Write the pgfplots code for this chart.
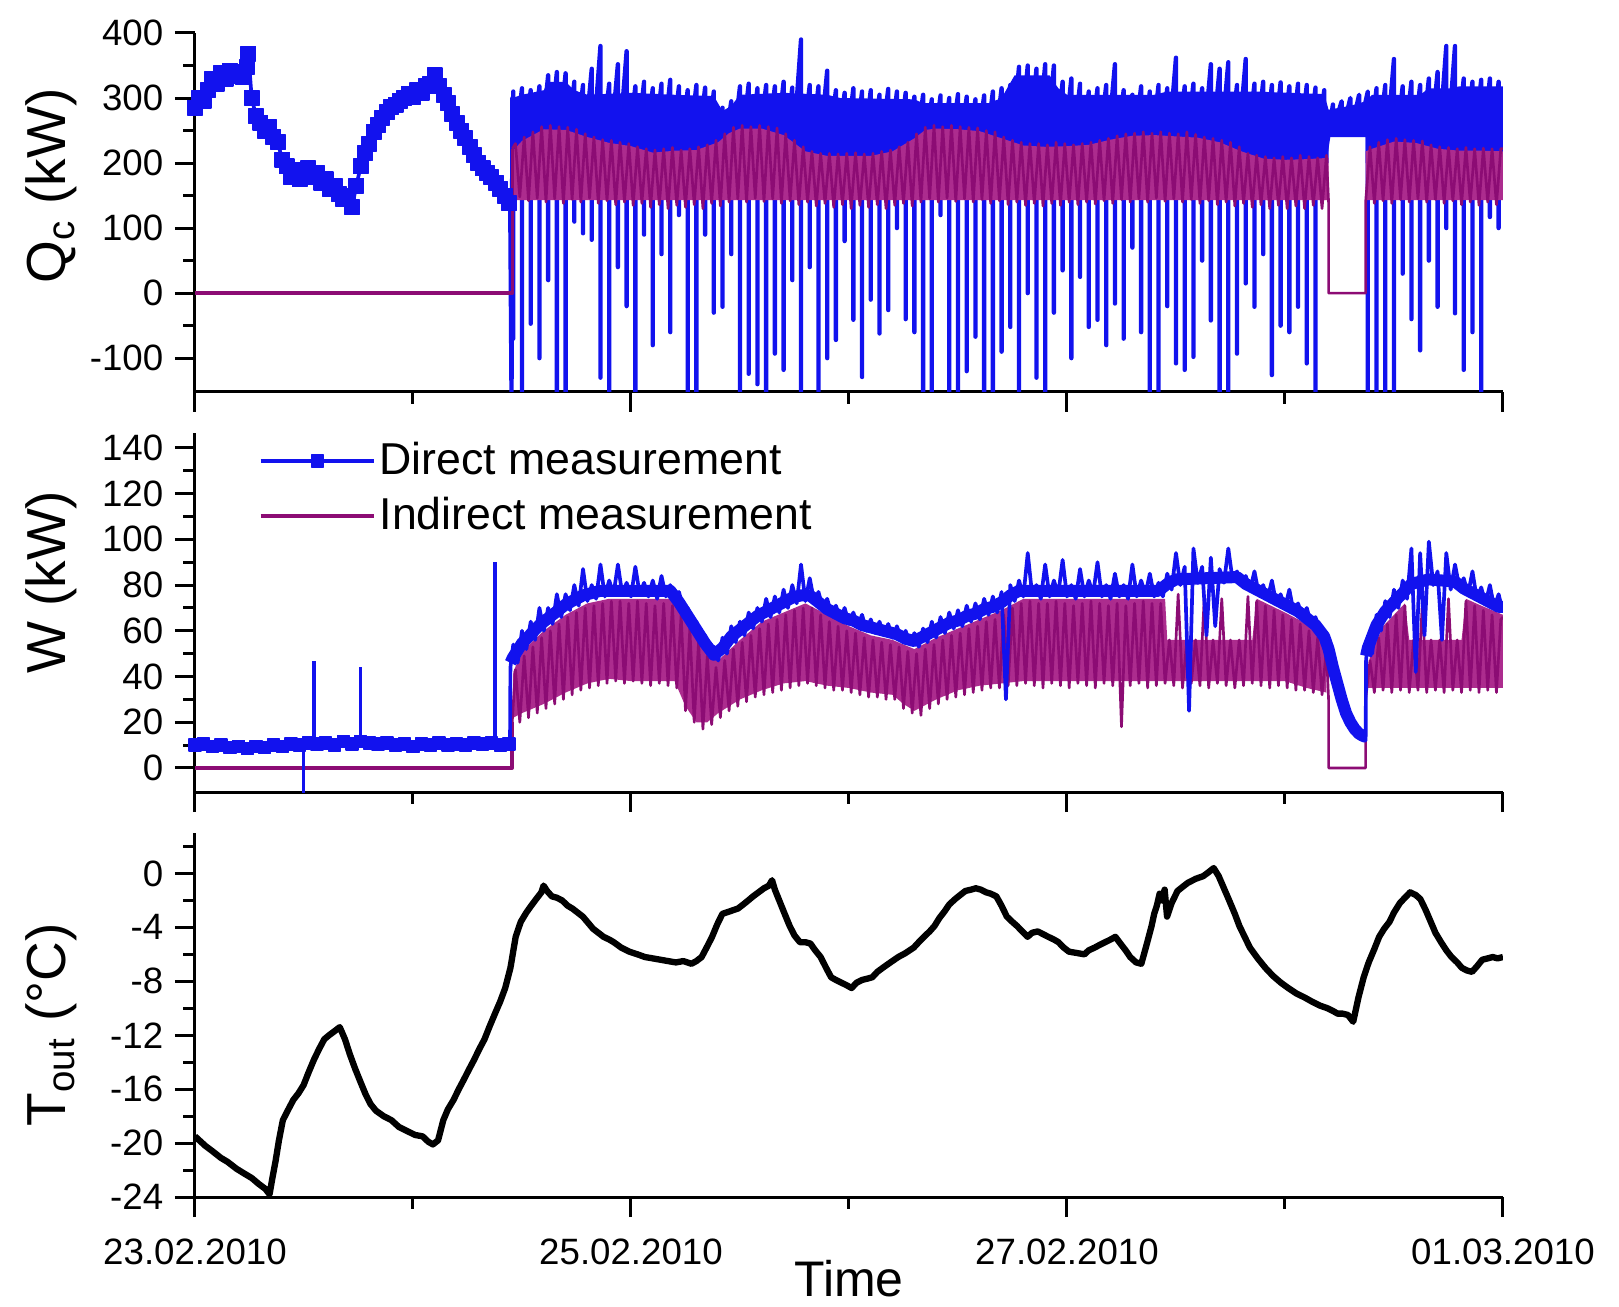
\documentclass[border=0pt]{standalone}
\usepackage{fontspec}
\setmainfont{Liberation Sans}
\usepackage{pgfplots}
\pgfplotsset{compat=1.18}
\definecolor{dirblue}{RGB}{18,18,238}
\definecolor{indmag}{RGB}{140,12,116}
\definecolor{indfill}{RGB}{172,44,142}

\pgfplotsset{
  panel/.style={
    scale only axis, width=392.4pt,
    xmin=0, xmax=6,
    axis lines=left,
    axis line style={-, line width=0.9pt},
    tick align=outside,
    tick style={black, line width=0.9pt},
    major tick length=6pt, minor tick length=3.5pt,
    xtick={0,2,4,6}, minor xtick={1,3,5},
    /pgf/number format/assume math mode=true,
    tick label style={font=\fontsize{11}{13}\selectfont},
    every axis plot/.append style={line join=round},
  },
  ylab/.style={every axis y label/.style={at={(axis description cs:-0.1096,#1)}, rotate=90, anchor=center, font=\fontsize{16.5}{19}\selectfont}},
}

\begin{document}
\begin{tikzpicture}

% ---------- Q_c ----------
\begin{axis}[panel, at={(0pt,241.5pt)}, anchor=south west, height=107.7pt,
  ymin=-152, ymax=400, ytick={-100,0,100,200,300,400}, minor ytick={-50,50,150,250,350},
  xticklabels={}, ylab=0.574, ylabel={Q\textsubscript{c} (kW)}]
% direct, before the chiller starts
\addplot[dirblue, line width=1.1pt, mark=square*, mark size=2.2pt, mark options={line width=0.4pt}] coordinates {
(0,285)(0.02,300)(0.04,296)(0.06,312)(0.08,330)(0.10,322)(0.12,338)(0.14,330)(0.16,342)(0.18,334)(0.20,340)(0.22,332)(0.24,348)(0.245,368)(0.26,300)(0.28,272)(0.30,262)(0.32,250)(0.34,256)(0.36,240)(0.38,232)(0.40,205)(0.42,195)(0.44,178)(0.46,190)(0.48,175)(0.50,186)(0.52,192)(0.54,178)(0.56,185)(0.58,170)(0.60,175)(0.62,160)(0.64,165)(0.66,152)(0.68,145)(0.70,150)(0.72,132)(0.74,165)(0.76,195)(0.78,215)(0.80,230)(0.82,248)(0.84,258)(0.86,270)(0.88,278)(0.90,286)(0.92,290)(0.94,296)(0.96,300)(0.98,306)(1.00,302)(1.02,312)(1.04,308)(1.06,318)(1.08,322)(1.10,335)(1.12,318)(1.14,305)(1.16,292)(1.18,275)(1.20,262)(1.22,250)(1.24,238)(1.26,225)(1.28,212)(1.30,200)(1.32,192)(1.34,185)(1.36,178)(1.38,170)(1.40,160)(1.42,150)(1.44,138)
};
% direct: dense band
\addplot[fill=dirblue, draw=none] coordinates {
(1.456,200)(1.456,300)(1.50,305)(1.60,312)(1.62,325)(1.70,325)(1.74,312)(1.80,305)(2.00,308)(2.20,305)(2.38,303)(2.42,280)(2.46,288)(2.50,305)(2.70,308)(2.90,305)(2.96,300)(3.30,298)(3.34,292)(3.64,292)(3.70,300)(3.76,335)(3.92,335)(3.96,315)(4.00,305)(4.40,305)(4.46,310)(4.86,310)(5.18,306)(5.20,282)(5.30,288)(5.37,295)(5.40,305)(5.62,305)(5.66,315)(5.76,315)(5.80,318)(6.00,318)
(6.00,200)(5.37,200)(5.37,240)(5.20,240)(5.20,200)
};
% direct: spikes
\addplot[dirblue, line width=1.3pt] coordinates {
(1.446,138)(1.452,-160)(1.456,300)(1.456,200)
(1.46,310)(1.46,-70)(1.46,200)(1.50,315)(1.50,-160)(1.50,200)(1.54,312)(1.54,-47)(1.54,200)(1.58,318)(1.58,-100)(1.58,200)(1.62,335)(1.62,20)(1.62,200)(1.66,340)(1.66,-160)(1.66,200)(1.70,338)(1.70,-160)(1.70,200)(1.74,325)(1.74,110)(1.74,200)(1.78,320)(1.78,92)(1.78,200)(1.82,345)(1.82,82)(1.82,200)(1.86,380)(1.86,-130)(1.86,200)(1.90,322)(1.90,-160)(1.90,200)(1.94,352)(1.94,40)(1.94,200)(1.98,372)(1.98,-20)(1.98,200)
(2.02,318)(2.02,-160)(2.02,200)(2.06,325)(2.06,90)(2.06,200)(2.10,315)(2.10,-80)(2.10,200)(2.14,322)(2.14,60)(2.14,200)(2.18,328)(2.18,-60)(2.18,200)(2.22,318)(2.22,120)(2.22,200)(2.26,312)(2.26,-160)(2.26,200)(2.30,320)(2.30,-160)(2.30,200)(2.34,316)(2.34,90)(2.34,200)(2.38,310)(2.38,-30)(2.38,200)(2.42,285)(2.42,-21)(2.42,200)(2.46,295)(2.46,60)(2.46,200)(2.50,318)(2.50,-160)(2.50,200)(2.54,322)(2.54,-124)(2.54,200)(2.58,315)(2.58,-140)(2.58,200)(2.62,320)(2.62,-160)(2.62,200)(2.66,318)(2.66,-93)(2.66,200)(2.70,325)(2.70,-118)(2.70,200)(2.74,316)(2.74,20)(2.74,200)(2.78,390)(2.78,-160)(2.78,200)(2.82,320)(2.82,40)(2.82,200)(2.86,318)(2.86,-160)(2.86,200)(2.90,342)(2.90,-100)(2.90,200)(2.94,312)(2.94,-72)(2.94,200)(2.98,308)(2.98,80)(2.98,200)
(3.02,315)(3.02,-41)(3.02,200)(3.06,310)(3.06,-129)(3.06,200)(3.10,312)(3.10,-10)(3.10,200)(3.14,305)(3.14,-62)(3.14,200)(3.18,314)(3.18,-26)(3.18,200)(3.22,310)(3.22,100)(3.22,200)(3.26,308)(3.26,-40)(3.26,200)(3.30,302)(3.30,-60)(3.30,200)(3.34,305)(3.34,-160)(3.34,200)(3.38,298)(3.38,-160)(3.38,200)(3.42,304)(3.42,120)(3.42,200)(3.46,300)(3.46,-160)(3.46,200)(3.50,306)(3.50,-160)(3.50,200)(3.54,302)(3.54,-120)(3.54,200)(3.58,298)(3.58,-67)(3.58,200)(3.62,304)(3.62,-160)(3.62,200)(3.66,310)(3.66,-160)(3.66,200)(3.70,315)(3.70,-90)(3.70,200)(3.74,320)(3.74,-52)(3.74,200)(3.78,348)(3.78,-160)(3.78,200)(3.82,350)(3.82,0)(3.82,200)(3.86,345)(3.86,-130)(3.86,200)(3.90,352)(3.90,-160)(3.90,200)(3.94,350)(3.94,-30)(3.94,200)(3.98,325)(3.98,35)(3.98,200)
(4.02,330)(4.02,-100)(4.02,200)(4.06,322)(4.06,25)(4.06,200)(4.10,310)(4.10,-52)(4.10,200)(4.14,315)(4.14,-41)(4.14,200)(4.18,320)(4.18,-80)(4.18,200)(4.22,352)(4.22,-16)(4.22,200)(4.26,312)(4.26,-70)(4.26,200)(4.30,305)(4.30,70)(4.30,200)(4.34,318)(4.34,-60)(4.34,200)(4.38,310)(4.38,-160)(4.38,200)(4.42,320)(4.42,-160)(4.42,200)(4.46,315)(4.46,-20)(4.46,200)(4.50,362)(4.50,-108)(4.50,200)(4.54,318)(4.54,-118)(4.54,200)(4.58,322)(4.58,-98)(4.58,200)(4.62,315)(4.62,50)(4.62,200)(4.66,352)(4.66,-42)(4.66,200)(4.70,345)(4.70,-160)(4.70,200)(4.74,355)(4.74,-160)(4.74,200)(4.78,320)(4.78,-93)(4.78,200)(4.82,360)(4.82,15)(4.82,200)(4.86,322)(4.86,-21)(4.86,200)(4.90,325)(4.90,60)(4.90,200)(4.94,320)(4.94,-126)(4.94,200)(4.98,324)(4.98,-50)(4.98,200)
(5.02,318)(5.02,-60)(5.02,200)(5.06,322)(5.06,-21)(5.06,200)(5.10,320)(5.10,-108)(5.10,200)(5.14,316)(5.14,-160)(5.14,200)(5.18,312)(5.18,200)(5.22,290)(5.22,250)(5.26,295)(5.26,245)(5.30,300)(5.30,245)(5.34,305)(5.34,250)
(5.38,310)(5.38,-160)(5.38,200)(5.42,315)(5.42,-160)(5.42,200)(5.46,320)(5.46,-160)(5.46,200)(5.50,360)(5.50,-160)(5.50,200)(5.54,318)(5.54,30)(5.54,200)(5.58,325)(5.58,-40)(5.58,200)(5.62,320)(5.62,-88)(5.62,200)(5.66,330)(5.66,50)(5.66,200)(5.70,340)(5.70,-21)(5.70,200)(5.74,380)(5.74,100)(5.74,200)(5.78,380)(5.78,-31)(5.78,200)(5.82,330)(5.82,-118)(5.82,200)(5.86,325)(5.86,-60)(5.86,200)(5.90,328)(5.90,-160)(5.90,200)(5.94,330)(5.94,117)(5.94,200)(5.98,325)(5.98,100)(5.98,200)(6.00,310)
};
% indirect: band
\addplot[fill=indfill, draw=none] coordinates {
(1.456,143)(1.456,218)(1.50,234)(1.60,252)(1.70,251)(1.80,240)(1.90,231)(2.00,226)(2.10,216)(2.20,219)(2.30,220)(2.40,232)(2.45,246)(2.50,253)(2.60,253)(2.70,243)(2.80,218)(2.90,211)(3.00,211)(3.10,211)(3.20,218)(3.30,238)(3.35,251)(3.40,253)(3.50,252)(3.60,249)(3.70,238)(3.80,227)(3.90,225)(4.00,226)(4.10,228)(4.20,236)(4.30,242)(4.40,243)(4.50,241)(4.60,239)(4.70,232)(4.80,218)(4.90,207)(5.00,205)(5.10,206)(5.20,208)(5.20,143)
};
\addplot[fill=indfill, draw=none] coordinates {
(5.37,143)(5.37,218)(5.40,222)(5.50,233)(5.60,231)(5.70,222)(5.80,219)(5.90,219)(6.00,218)(6.00,143)
};
\addplot[indmag, line width=1.1pt] coordinates {(0,0)(1.456,0)(1.456,222)};
\addplot[indmag, line width=0.8pt] coordinates {
(1.456,222)
(1.47,230)(1.49,148)(1.51,240)(1.53,142)(1.55,248)(1.57,146)(1.59,256)(1.61,140)(1.63,258)(1.65,145)(1.67,256)(1.69,138)(1.71,255)(1.73,144)(1.75,252)(1.77,140)(1.79,245)(1.81,146)(1.83,240)(1.85,138)(1.87,236)(1.89,142)(1.91,235)(1.93,136)(1.95,232)(1.97,140)(1.99,230)(2.01,135)
(2.03,225)(2.05,138)(2.07,222)(2.09,132)(2.11,220)(2.13,136)(2.15,222)(2.17,130)(2.19,224)(2.21,135)(2.23,220)(2.25,132)(2.27,222)(2.29,136)(2.31,225)(2.33,130)(2.35,228)(2.37,138)(2.39,235)(2.41,134)(2.43,245)(2.45,140)(2.47,255)(2.49,145)(2.51,258)(2.53,140)(2.55,256)(2.57,146)(2.59,258)(2.61,141)(2.63,256)(2.65,145)(2.67,254)(2.69,138)(2.71,245)(2.73,142)(2.75,235)(2.77,136)(2.79,225)(2.81,140)(2.83,218)(2.85,134)(2.87,215)(2.89,138)(2.91,215)(2.93,132)(2.95,214)(2.97,136)(2.99,215)(3.01,130)
(3.03,216)(3.05,135)(3.07,214)(3.09,132)(3.11,215)(3.13,136)(3.15,218)(3.17,130)(3.19,220)(3.21,135)(3.23,225)(3.25,138)(3.27,232)(3.29,134)(3.31,245)(3.33,140)(3.35,255)(3.37,145)(3.39,258)(3.41,140)(3.43,256)(3.45,146)(3.47,258)(3.49,141)(3.51,256)(3.53,145)(3.55,255)(3.57,140)(3.59,254)(3.61,144)(3.63,250)(3.65,138)(3.67,248)(3.69,142)(3.71,240)(3.73,136)(3.75,235)(3.77,140)(3.79,232)(3.81,135)(3.83,230)(3.85,138)(3.87,230)(3.89,134)(3.91,228)(3.93,138)(3.95,232)(3.97,135)(3.99,230)(4.01,140)
(4.03,228)(4.05,136)(4.07,230)(4.09,140)(4.11,232)(4.13,137)(4.15,235)(4.17,142)(4.19,238)(4.21,138)(4.23,242)(4.25,144)(4.27,245)(4.29,140)(4.31,246)(4.33,145)(4.35,248)(4.37,140)(4.39,246)(4.41,146)(4.43,248)(4.45,141)(4.47,246)(4.49,145)(4.51,245)(4.53,140)(4.55,248)(4.57,144)(4.59,244)(4.61,138)(4.63,240)(4.65,142)(4.67,238)(4.69,136)(4.71,235)(4.73,140)(4.75,232)(4.77,134)(4.79,225)(4.81,138)(4.83,215)(4.85,132)(4.87,212)(4.89,136)(4.91,210)(4.93,130)(4.95,208)(4.97,135)(4.99,210)(5.01,130)
(5.03,208)(5.05,134)(5.07,212)(5.09,130)(5.11,210)(5.13,135)(5.15,208)(5.17,130)(5.19,212)(5.20,140)(5.20,0)(5.37,0)(5.37,140)
(5.39,225)(5.41,138)(5.43,232)(5.45,142)(5.47,236)(5.49,138)(5.51,238)(5.53,144)(5.55,236)(5.57,140)(5.59,235)(5.61,145)(5.63,234)(5.65,140)(5.67,228)(5.69,144)(5.71,225)(5.73,138)(5.75,224)(5.77,142)(5.79,222)(5.81,136)(5.83,224)(5.85,140)(5.87,222)(5.89,135)(5.91,223)(5.93,140)(5.95,222)(5.97,136)(5.99,222)(6.00,222)
};
\end{axis}

% ---------- W ----------
\begin{axis}[panel, at={(0pt,121.5pt)}, anchor=south west, height=107.7pt,
  ymin=-10.5, ymax=146.5, ytick={0,20,...,140}, minor ytick={10,30,...,130},
  xticklabels={}, ylab=0.584, ylabel={W (kW)},
  legend style={at={(axis description cs:0.0482,1.0)}, anchor=north west, draw=none, fill=none,
    font=\fontsize{13.4}{16}\selectfont, row sep=0pt, inner sep=0pt,
    nodes={inner xsep=1.2pt, inner ysep=2.6pt}},
  legend cell align=left,
  legend image code/.code={\draw[mark repeat=2,mark phase=2,#1] plot coordinates {(0pt,0pt) (17pt,0pt) (34pt,0pt)};}]
\addplot[dirblue, line width=1.1pt, mark=square*, mark size=1.8pt, mark options={line width=0.4pt}] coordinates {
(0,10)(0.04,10.5)(0.08,9.5)(0.12,10)(0.16,9)(0.20,9.5)(0.24,8.5)(0.28,9.5)(0.32,9)(0.36,10)(0.40,9.5)(0.44,10.5)(0.48,10)(0.52,11)(0.56,10.5)(0.60,11)(0.64,10)(0.68,11.5)(0.72,10.5)(0.76,11.5)(0.80,11)(0.84,10.5)(0.88,11)(0.92,10)(0.96,10.5)(1.00,9.5)(1.04,10.5)(1.08,10)(1.12,11)(1.16,10)(1.20,10.5)(1.24,10)(1.28,11)(1.32,10.5)(1.36,11)(1.40,10)(1.44,10.5)
};
\addlegendentry{Direct measurement}
% indirect: band
\addplot[fill=indfill, draw=none, forget plot] coordinates {
(1.456,18)(1.46,42)(1.50,51)(1.60,60)(1.70,67)(1.80,72)(1.90,74)(2.20,74)(2.25,66)(2.30,59)(2.35,51)(2.40,47)(2.50,56)(2.60,64)(2.70,68)(2.80,72)(2.90,67)(3.00,62)(3.10,58)(3.20,56)(3.30,52)(3.40,57)(3.50,61)(3.60,65)(3.70,69)(3.80,74)(4.45,74)(4.46,56)(4.85,56)(4.87,74)(5.00,68)(5.10,63)(5.19,54)
(5.19,33)(5.10,35)(5.00,38)(3.80,38)(3.70,37)(3.60,36)(3.50,34)(3.40,30)(3.30,25)(3.25,28)(3.20,32)(3.10,33)(3.00,35)(2.90,36)(2.80,38)(2.70,37)(2.60,34)(2.50,30)(2.40,24)(2.35,20)(2.30,20)(2.25,27)(2.20,38)(2.00,38)(1.90,39)(1.80,37)(1.70,33)(1.60,28)(1.50,24)(1.46,22)
};
\addplot[fill=indfill, draw=none, forget plot] coordinates {
(5.37,32)(5.39,49)(5.45,62)(5.55,72)(5.57,56)(5.81,56)(5.83,74)(5.90,71)(6.00,67)(6.00,35)(5.37,35)
};
\addplot[indmag, line width=1.1pt] coordinates {(0,0)(1.455,0)(1.455,20)};
\addlegendentry{Indirect measurement}
\addplot[indmag, line width=0.8pt, forget plot] coordinates {
(1.455,20)
(1.47,43)(1.49,20)(1.51,49)(1.53,22)(1.55,53)(1.57,24)(1.59,57)(1.61,26)(1.63,60)(1.65,28)(1.67,63)(1.69,30)(1.71,66)(1.73,32)(1.75,68)(1.77,34)(1.79,70)(1.81,35)(1.83,71)(1.85,36)(1.87,72)(1.89,37)(1.91,73)(1.93,38)(1.95,73)(1.97,37)(1.99,72)(2.01,38)
(2.03,73)(2.05,37)(2.07,72)(2.09,36)(2.11,71)(2.13,37)(2.15,72)(2.17,36)(2.19,71)(2.21,35)(2.23,67)(2.25,25)(2.27,61)(2.29,20)(2.31,55)(2.33,17)(2.35,49)(2.37,19)(2.39,44)(2.41,22)(2.43,47)(2.45,25)(2.47,52)(2.49,27)(2.51,55)(2.53,29)(2.55,58)(2.57,31)(2.59,61)(2.61,32)(2.63,63)(2.65,33)(2.67,65)(2.69,34)(2.71,67)(2.73,35)(2.75,69)(2.77,36)(2.79,70)(2.81,37)(2.83,70)(2.85,36)(2.87,67)(2.89,35)(2.91,64)(2.93,34)(2.95,62)(2.97,34)(2.99,60)(3.01,33)
(3.03,59)(3.05,32)(3.07,57)(3.09,31)(3.11,56)(3.13,31)(3.15,55)(3.17,30)(3.19,54)(3.21,30)(3.23,53)(3.25,26)(3.27,51)(3.29,24)(3.31,50)(3.33,23)(3.35,52)(3.37,26)(3.39,54)(3.41,28)(3.43,56)(3.45,30)(3.47,58)(3.49,31)(3.51,59)(3.53,32)(3.55,61)(3.57,33)(3.59,62)(3.61,34)(3.63,64)(3.65,35)(3.67,65)(3.69,35)(3.71,67)(3.73,36)(3.75,70)(3.77,36)(3.79,72)(3.81,37)(3.83,73)(3.85,36)(3.87,72)(3.89,35)(3.91,72)(3.93,37)(3.95,73)(3.97,36)(3.99,72)(4.01,35)
(4.03,71)(4.05,37)(4.07,72)(4.09,36)(4.11,73)(4.13,35)(4.15,72)(4.17,37)(4.19,71)(4.21,36)(4.23,72)(4.25,18)(4.27,71)(4.29,36)(4.31,72)(4.33,37)(4.35,73)(4.37,35)(4.39,72)(4.41,36)(4.43,72)(4.45,37)(4.47,56)(4.49,36)(4.51,76)(4.53,35)(4.55,56)(4.57,37)(4.59,56)(4.61,36)(4.63,75)(4.65,35)(4.67,56)(4.69,37)(4.71,74)(4.73,36)(4.75,56)(4.77,35)(4.79,56)(4.81,36)(4.83,75)(4.85,37)(4.87,73)(4.89,36)(4.91,71)(4.93,35)(4.95,69)(4.97,36)(4.99,67)(5.01,35)
(5.03,65)(5.05,34)(5.07,63)(5.09,34)(5.11,60)(5.13,33)(5.15,57)(5.17,32)(5.19,52)(5.20,30)(5.20,0)(5.37,0)(5.37,30)
(5.39,47)(5.41,33)(5.43,57)(5.45,34)(5.47,63)(5.49,33)(5.51,67)(5.53,34)(5.55,71)(5.57,33)(5.59,56)(5.61,34)(5.63,72)(5.65,33)(5.67,56)(5.69,34)(5.71,56)(5.73,33)(5.75,74)(5.77,34)(5.79,56)(5.81,33)(5.83,73)(5.85,34)(5.87,71)(5.89,33)(5.91,69)(5.93,34)(5.95,67)(5.97,33)(5.99,65)(6.00,66)
};
% direct: isolated spikes before start-up
\addplot[dirblue, line width=1.1pt, unbounded coords=jump, forget plot] coordinates {
(0.498,10)(0.498,-15)(0.52,nan)(0.546,11)(0.546,47)(0.65,nan)(0.759,11)(0.759,44)(1.0,nan)(1.376,10.5)(1.376,90)
};
% direct: main trace (thick)
\addplot[dirblue, line width=3.6pt, forget plot] coordinates {
(1.447,46)(1.46,48.5)(1.50,54.5)(1.54,58.5)(1.58,62.5)(1.62,65.5)(1.66,68.5)(1.70,71.5)(1.74,73.5)(1.78,75.5)(1.82,76.5)(1.86,77.5)(2.18,77.5)(2.22,72.5)(2.26,66.5)(2.30,60.5)(2.34,54.5)(2.38,49.5)(2.42,52.5)(2.46,57.5)(2.50,60.5)(2.54,63.5)(2.58,66.5)(2.62,68.5)(2.66,70.5)(2.70,72.5)(2.74,74.5)(2.78,75.5)(2.82,75.5)(2.86,72.5)(2.90,69.5)(2.94,67.5)(2.98,65.5)(3.02,64.5)(3.06,62.5)(3.10,61.5)(3.14,60.5)(3.18,59.5)(3.22,58.5)(3.26,56.5)(3.30,55.5)(3.34,57.5)(3.38,59.5)(3.42,61.5)(3.46,63.5)(3.50,64.5)(3.54,66.5)(3.58,67.5)(3.62,69.5)(3.66,70.5)(3.70,72.5)(3.74,75.5)(3.78,77.5)(4.42,77.5)(4.46,80.5)(4.50,82.5)(4.78,83.5)(4.82,80.5)(4.86,78.5)(4.90,76.5)(4.94,74.5)(4.98,72.5)(5.02,70.5)(5.06,68.5)(5.10,65.5)(5.14,62.5)(5.18,57.5)(5.20,52)(5.22,44)(5.24,37)(5.26,30)(5.28,24)(5.30,20)(5.32,17)(5.34,15)(5.36,14)(5.37,14)
};
\addplot[dirblue, line width=3.6pt, forget plot] coordinates {
(5.372,49)(5.38,52.5)(5.42,62.5)(5.46,68.5)(5.50,72.5)(5.54,76.5)(5.58,80.5)(5.66,82.5)(5.78,81.5)(5.82,78.5)(5.86,76.5)(5.90,74.5)(5.94,72.5)(5.98,70.5)(6.00,70.5)
};
% direct: fluctuations
\addplot[dirblue, line width=1.1pt, forget plot] coordinates {
(1.445,10.5)(1.447,44)
(1.46,54)(1.48,46)(1.50,60)(1.52,52)(1.54,64)(1.56,56)(1.58,70)(1.60,60)(1.62,70)(1.64,63)(1.66,76)(1.68,66)(1.70,76)(1.72,69)(1.74,80)(1.76,71)(1.78,87)(1.80,73)(1.82,80)(1.84,74)(1.86,89)(1.88,75)(1.90,82)(1.92,76)(1.94,89)(1.96,76)(1.98,81)(2.00,75)
(2.02,88)(2.04,76)(2.06,81)(2.08,75)(2.10,82)(2.12,74)(2.14,84)(2.16,75)(2.18,80)(2.20,74)(2.22,77)(2.24,70)(2.26,70)(2.28,64)(2.30,64)(2.32,58)(2.34,58)(2.36,52)(2.38,53)(2.40,47)(2.42,57)(2.44,50)(2.46,62)(2.48,55)(2.50,64)(2.52,58)(2.54,68)(2.56,61)(2.58,70)(2.60,64)(2.62,74)(2.64,66)(2.66,75)(2.68,68)(2.70,78)(2.72,70)(2.74,80)(2.76,72)(2.78,89)(2.80,73)(2.82,83)(2.84,73)(2.86,77)(2.88,70)(2.90,74)(2.92,67)(2.94,71)(2.96,65)(2.98,70)(3.00,63)
(3.02,68)(3.04,62)(3.06,67)(3.08,60)(3.10,65)(3.12,59)(3.14,64)(3.16,58)(3.18,63)(3.20,57)(3.22,62)(3.24,56)(3.26,60)(3.28,54)(3.30,59)(3.32,53)(3.34,61)(3.36,55)(3.38,64)(3.40,57)(3.42,66)(3.44,59)(3.46,68)(3.48,61)(3.50,69)(3.52,62)(3.54,71)(3.56,64)(3.58,72)(3.60,65)(3.62,74)(3.64,67)(3.66,75)(3.68,68)(3.70,77)(3.72,30)(3.74,80)(3.76,73)(3.78,82)(3.80,75)(3.82,94)(3.84,76)(3.86,80)(3.88,74)(3.90,89)(3.92,75)(3.94,82)(3.96,76)(3.98,91)(4.00,75)
(4.02,80)(4.04,74)(4.06,87)(4.08,75)(4.10,82)(4.12,76)(4.14,90)(4.16,75)(4.18,80)(4.20,74)(4.22,85)(4.24,75)(4.26,80)(4.28,74)(4.30,89)(4.32,75)(4.34,82)(4.36,76)(4.38,85)(4.40,75)(4.42,81)(4.44,75)(4.46,85)(4.48,78)(4.50,94)(4.52,80)(4.54,88)(4.56,25)(4.58,96)(4.60,81)(4.62,88)(4.64,58)(4.66,92)(4.68,62)(4.70,87)(4.72,81)(4.74,96)(4.76,82)(4.78,86)(4.80,80)(4.82,84)(4.84,78)(4.86,86)(4.88,76)(4.90,80)(4.92,74)(4.94,82)(4.96,72)(4.98,76)(5.00,70)
(5.02,78)(5.04,68)(5.06,72)(5.08,66)(5.10,70)(5.12,63)(5.14,66)(5.16,60)(5.18,60)(5.20,53)
(5.22,42)(5.24,35)(5.26,28)(5.28,22)(5.30,18)(5.32,15)(5.34,13)(5.36,12)(5.37,12)(5.372,47)
(5.38,56)(5.40,50)(5.42,67)(5.44,60)(5.46,73)(5.48,66)(5.50,78)(5.52,70)(5.54,82)(5.56,74)(5.58,96)(5.60,42)(5.62,94)(5.64,58)(5.66,99)(5.68,80)(5.70,86)(5.72,56)(5.74,94)(5.76,78)(5.78,89)(5.80,79)(5.82,83)(5.84,76)(5.86,86)(5.88,74)(5.90,79)(5.92,72)(5.94,80)(5.96,70)(5.98,76)(6.00,68)
};
\end{axis}

% ---------- T_out ----------
\begin{axis}[panel, at={(0pt,0pt)}, anchor=south west, height=109.2pt,
  ymin=-24, ymax=3, ytick={-24,-20,...,0}, minor ytick={-22,-18,...,2},
  xticklabels={23.02.2010,25.02.2010,27.02.2010,01.03.2010},
  xticklabel style={yshift=-3pt},
  xlabel={Time},
  every axis x label/.style={at={(axis description cs:0.5,0)}, anchor=center, yshift=-24.5pt, font=\fontsize{15}{18}\selectfont},
  ylab=0.473, ylabel={T\textsubscript{out} (°C)}]
\addplot[black, line width=1.9pt] coordinates {
(0,-19.5)(0.047,-20.2)(0.08,-20.6)(0.119,-21.1)(0.15,-21.4)(0.19,-21.9)(0.22,-22.2)(0.261,-22.6)(0.29,-23.0)(0.323,-23.4)(0.342,-23.8)(0.355,-22.6)(0.370,-21.3)(0.385,-19.8)(0.403,-18.3)(0.425,-17.6)(0.451,-16.8)(0.475,-16.3)(0.498,-15.7)(0.52,-14.8)(0.546,-13.8)(0.57,-13.0)(0.593,-12.3)(0.615,-12.0)(0.640,-11.7)(0.664,-11.4)(0.688,-12.3)(0.71,-13.4)(0.735,-14.5)(0.76,-15.5)(0.783,-16.4)(0.805,-17.1)(0.830,-17.6)(0.865,-18.0)(0.901,-18.3)(0.935,-18.8)(0.972,-19.1)(1.01,-19.4)(1.044,-19.5)(1.07,-19.9)(1.091,-20.1)(1.115,-19.8)(1.139,-18.3)(1.16,-17.5)(1.186,-16.8)(1.21,-16.0)(1.233,-15.3)(1.255,-14.6)(1.281,-13.8)(1.305,-13.0)(1.328,-12.3)(1.35,-11.4)(1.376,-10.4)(1.40,-9.5)(1.423,-8.5)(1.447,-7.0)(1.471,-4.7)(1.494,-3.6)(1.52,-2.9)(1.542,-2.4)(1.565,-1.9)(1.589,-1.4)(1.599,-0.9)(1.615,-1.3)(1.637,-1.7)(1.66,-1.8)(1.684,-2.0)(1.71,-2.4)(1.731,-2.6)(1.755,-2.9)(1.779,-3.2)(1.80,-3.6)(1.826,-4.1)(1.85,-4.4)(1.874,-4.7)(1.90,-4.9)(1.921,-5.1)(1.955,-5.5)(1.992,-5.8)
(2.03,-6.0)(2.064,-6.2)(2.10,-6.3)(2.135,-6.4)(2.17,-6.5)(2.206,-6.6)(2.24,-6.5)(2.277,-6.7)(2.30,-6.5)(2.324,-6.2)(2.35,-5.4)(2.372,-4.7)(2.395,-3.8)(2.419,-3.0)(2.455,-2.8)(2.491,-2.6)(2.515,-2.3)(2.538,-2.0)(2.56,-1.7)(2.585,-1.4)(2.61,-1.1)(2.633,-0.9)(2.647,-0.5)(2.66,-1.2)(2.680,-2.0)(2.705,-3.0)(2.728,-3.9)(2.75,-4.6)(2.775,-5.1)(2.80,-5.1)(2.823,-5.2)(2.845,-5.7)(2.870,-6.2)(2.895,-7.0)(2.918,-7.7)(2.94,-7.9)(2.965,-8.1)(2.99,-8.3)(3.012,-8.5)(3.035,-8.1)(3.060,-7.9)(3.085,-7.8)(3.107,-7.7)(3.13,-7.3)(3.155,-7.0)(3.19,-6.6)(3.226,-6.2)(3.26,-5.9)(3.297,-5.5)(3.32,-5.1)(3.344,-4.7)(3.37,-4.3)(3.392,-3.9)(3.415,-3.3)(3.439,-2.8)(3.46,-2.3)(3.487,-1.9)(3.51,-1.6)(3.534,-1.3)(3.56,-1.2)(3.582,-1.1)(3.605,-1.2)(3.629,-1.4)(3.65,-1.5)(3.676,-1.7)(3.70,-2.4)(3.724,-3.2)(3.75,-3.6)(3.771,-3.9)(3.795,-4.3)(3.819,-4.7)(3.84,-4.4)(3.866,-4.3)(3.89,-4.5)(3.914,-4.7)(3.94,-4.9)(3.961,-5.1)(3.985,-5.5)
(4.009,-5.8)(4.045,-5.9)(4.080,-6.0)(4.10,-5.7)(4.127,-5.5)(4.15,-5.3)(4.175,-5.1)(4.20,-4.9)(4.222,-4.7)(4.245,-5.2)(4.269,-5.7)(4.29,-6.2)(4.317,-6.6)(4.341,-6.7)(4.365,-5.3)(4.388,-3.9)(4.40,-3.0)(4.412,-2.4)(4.425,-1.5)(4.436,-2.0)(4.448,-1.2)(4.459,-3.2)(4.48,-2.2)(4.507,-1.3)(4.53,-1.0)(4.554,-0.7)(4.59,-0.4)(4.625,-0.2)(4.65,0.1)(4.673,0.4)(4.696,-0.2)(4.72,-1.1)(4.744,-2.0)(4.77,-3.0)(4.791,-3.9)(4.815,-4.7)(4.839,-5.5)(4.875,-6.3)(4.910,-7.0)(4.945,-7.6)(4.981,-8.1)
(5.015,-8.5)(5.052,-8.9)(5.09,-9.2)(5.123,-9.5)(5.16,-9.8)(5.195,-10.0)(5.22,-10.2)(5.242,-10.4)(5.265,-10.4)(5.289,-10.5)(5.313,-11.0)(5.337,-9.2)(5.361,-7.7)(5.384,-6.6)(5.41,-5.6)(5.432,-4.7)(5.455,-4.1)(5.479,-3.6)(5.50,-2.9)(5.527,-2.2)(5.55,-1.8)(5.574,-1.4)(5.60,-1.6)(5.621,-1.9)(5.645,-2.7)(5.669,-3.6)(5.69,-4.4)(5.716,-5.1)(5.74,-5.7)(5.764,-6.2)(5.79,-6.6)(5.811,-7.0)(5.835,-7.2)(5.858,-7.3)(5.88,-6.9)(5.905,-6.4)(5.93,-6.3)(5.953,-6.2)(5.975,-6.3)(6.0,-6.2)
};
\end{axis}

\pgfresetboundingbox
\useasboundingbox (-58.5pt,-32.7pt) rectangle (427.2pt,359.1pt);
\end{tikzpicture}
\end{document}
